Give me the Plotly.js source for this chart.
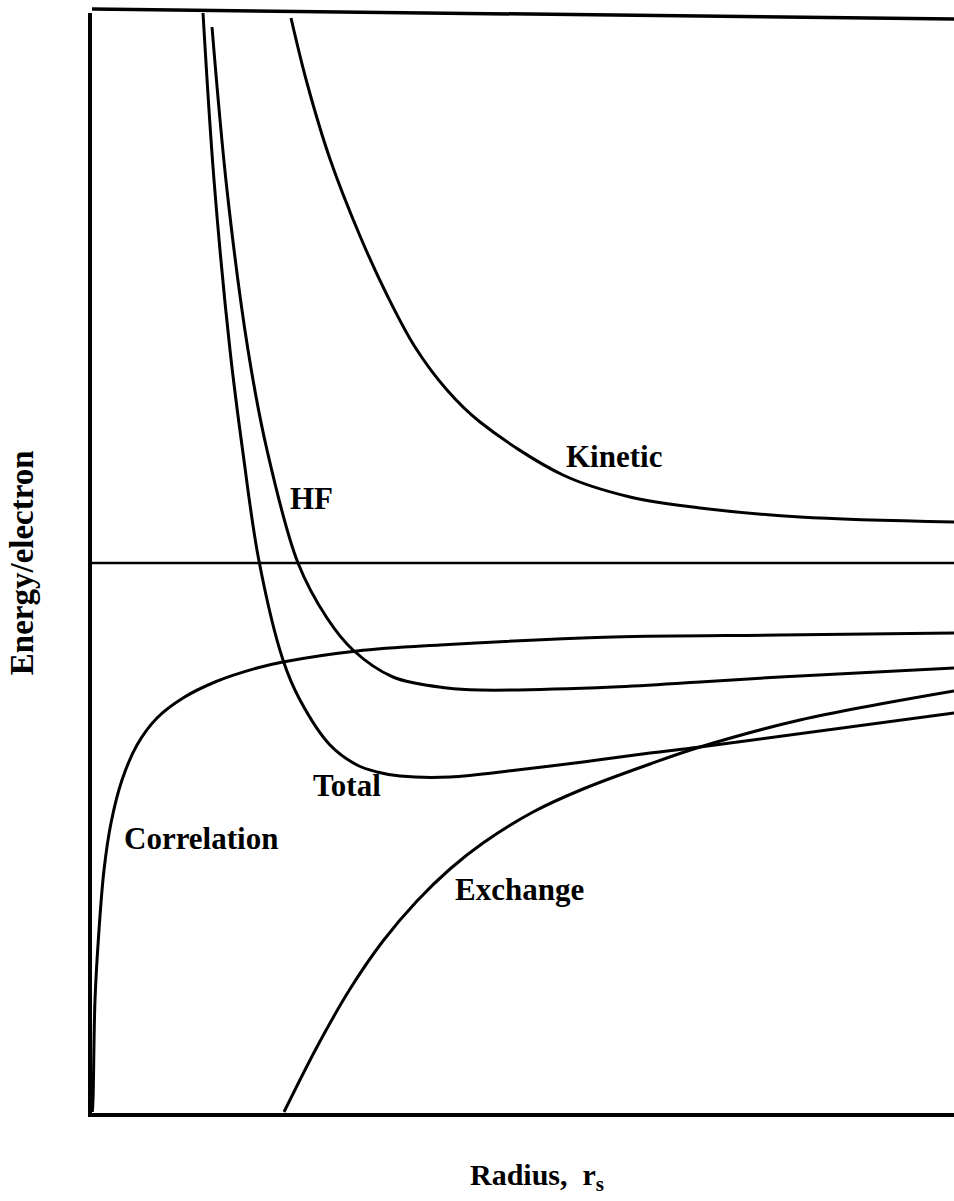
<!DOCTYPE html>
<html>
<head>
<meta charset="utf-8">
<script src="https://cdn.plot.ly/plotly-3.0.1.min.js"></script>
<style>html,body{margin:0;padding:0;background:#fff;}#chart{width:954px;height:1201px;}</style>
</head>
<body>
<div id="chart"></div>
<script>
// Schematic energy-per-electron curves vs radius r_s (arbitrary units)
const kineticX = [1.99, 2.15, 2.38, 2.68, 2.95, 3.23, 3.55, 3.88, 4.71, 5.38, 6.08, 7.08, 8.62];
const kineticY = [10.9, 9.6, 8.08, 6.54, 5.36, 4.32, 3.46, 2.82, 1.76, 1.32, 1.1, 0.92, 0.82];

const totalX = [1.11, 1.22, 1.38, 1.51, 1.67, 1.91, 2.08, 2.38, 2.65, 2.85, 3.08, 3.58, 4.25, 4.91, 5.58, 6.08, 8.62];
const totalY = [11.0, 7.66, 4.26, 2.2, 0.04, -1.94, -2.74, -3.64, -4.04, -4.18, -4.26, -4.28, -4.14, -3.98, -3.8, -3.68, -3.0];

const hfX = [1.2, 1.35, 1.56, 1.75, 2.06, 2.35, 2.61, 3.01, 3.55, 3.88, 5.21, 6.08, 6.88, 8.62];
const hfY = [10.72, 7.46, 4.26, 2.26, 0.0, -1.1, -1.74, -2.28, -2.5, -2.54, -2.48, -2.38, -2.28, -2.1];

const corrX = [0.003, 0.01, 0.03, 0.07, 0.12, 0.19, 0.30, 0.45, 0.65, 0.91, 1.23, 1.65, 1.91, 2.65, 3.48, 5.21, 6.88, 8.62];
const corrY = [-10.98, -10.74, -8.74, -7.34, -6.14, -5.2, -4.34, -3.64, -3.1, -2.7, -2.38, -2.1, -1.98, -1.76, -1.64, -1.48, -1.44, -1.4];

const exchX = [1.92, 2.26, 2.58, 2.91, 3.25, 3.58, 3.91, 4.41, 4.91, 5.58, 6.08, 7.08, 8.62];
const exchY = [-10.98, -9.64, -8.52, -7.56, -6.76, -6.12, -5.6, -4.98, -4.52, -4.02, -3.68, -3.14, -2.56];

const curveNames = ["Kinetic", "HF", "Total", "Correlation", "Exchange"];
const labelX = [5.22, 2.19, 2.55, 1.09, 4.27];
const labelY = [2.14, 1.3, -4.44, -5.5, -6.52];

const xTitle = "Radius,  r<sub>s</sub>";
const yTitle = "Energy/electron";

const FONT = "Liberation Serif, Times New Roman, serif";
const lineStyle = {color: "#000", width: 3, shape: "spline", smoothing: 1.0};

const series = [
  [kineticX, kineticY], [hfX, hfY], [totalX, totalY], [corrX, corrY], [exchX, exchY]
];
const traces = series.map((s, i) => ({
  x: s[0], y: s[1], type: "scatter", mode: "lines", name: curveNames[i],
  line: lineStyle, hoverinfo: "skip", showlegend: false
}));

const annotations = curveNames.map((n, i) => ({
  x: labelX[i], y: labelY[i], xref: "x", yref: "y", text: "<b>" + n + "</b>",
  showarrow: false, font: {family: FONT, size: 31, color: "#000"},
  xanchor: "center", yanchor: "middle"
}));
annotations.push({
  xref: "paper", yref: "paper", x: 0.516, y: -0.058, text: "<b>" + xTitle + "</b>",
  showarrow: false, font: {family: FONT, size: 30, color: "#000"}, xanchor: "center", yanchor: "middle"
});
annotations.push({
  xref: "paper", yref: "paper", x: -0.081, y: 0.5, text: "<b>" + yTitle + "</b>", textangle: -90,
  showarrow: false, font: {family: FONT, size: 33, color: "#000"}, xanchor: "center", yanchor: "middle"
});

const layout = {
  width: 954, height: 1201,
  margin: {l: 92, r: 0, t: 13, b: 88},
  paper_bgcolor: "#fff", plot_bgcolor: "#fff",
  showlegend: false,
  xaxis: {range: [0, 8.62], showgrid: false, zeroline: false, showticklabels: false, ticks: "",
          showline: true, linecolor: "#000", linewidth: 4, fixedrange: true},
  yaxis: {range: [-11, 11], showgrid: false, zeroline: false,
          showticklabels: false, ticks: "", showline: true, linecolor: "#000", linewidth: 4, fixedrange: true},
  shapes: [
    {type: "line", xref: "paper", yref: "paper", x0: 0, x1: 1, y0: 1.0036, y1: 0.9945,
     line: {color: "#000", width: 3.5}},
    {type: "line", xref: "paper", yref: "y", x0: 0, x1: 1, y0: 0, y1: 0,
     line: {color: "#000", width: 2.6}}
  ],
  annotations: annotations
};

Plotly.newPlot("chart", traces, layout, {staticPlot: true, displayModeBar: false});
</script>
</body>
</html>
